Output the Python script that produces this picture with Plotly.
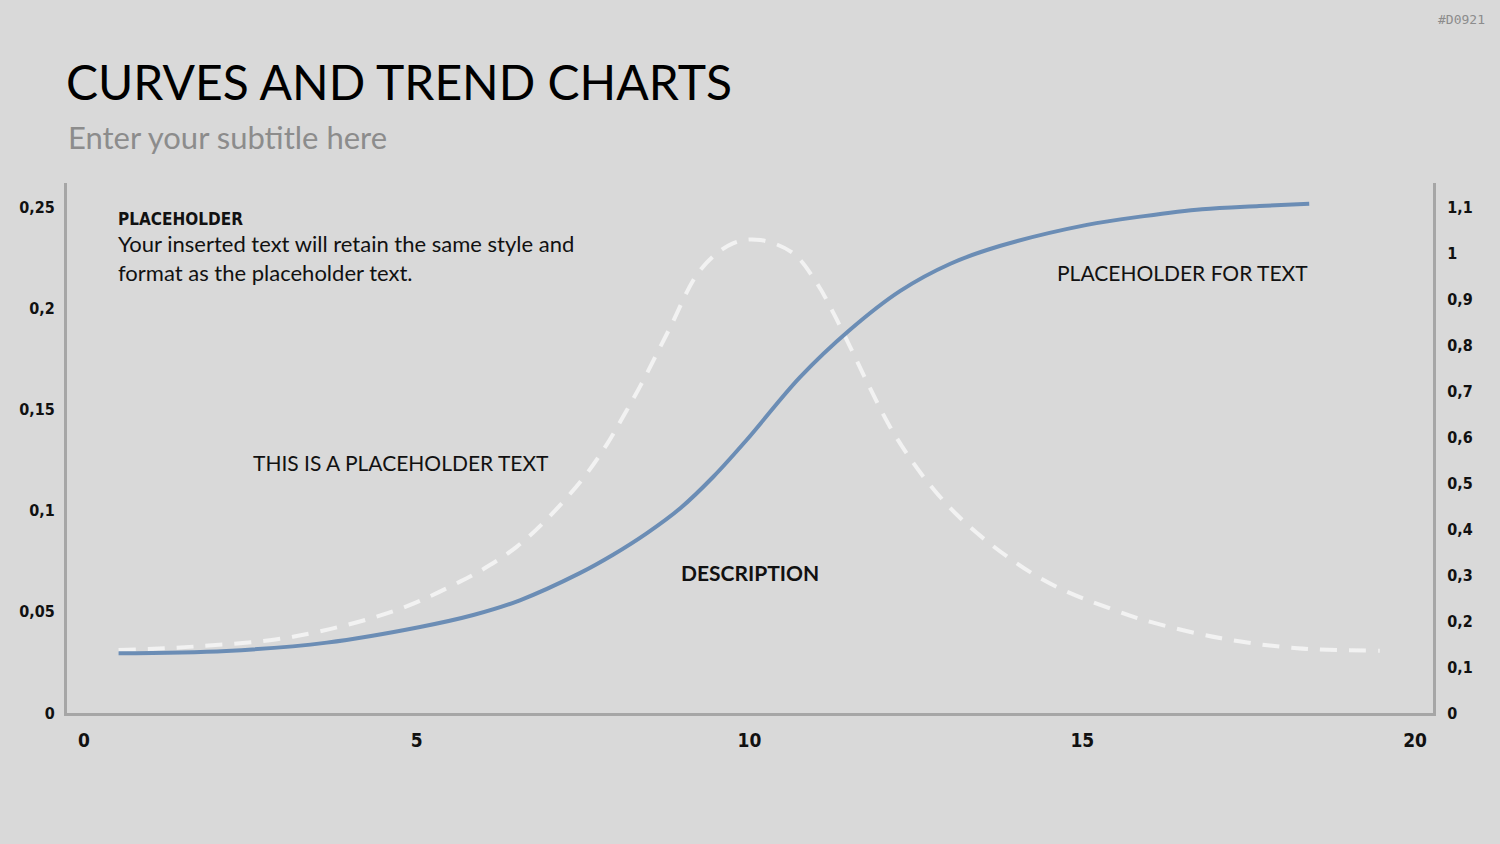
import plotly.graph_objects as go

# ---- data ----
x_growth = [0.52, 2.14, 3.65, 5.05, 5.85, 6.55, 7.45, 7.95, 8.46, 8.96, 9.46, 9.96, 10.76,
            11.51, 12.26, 13.01, 13.76, 15.07, 15.93, 16.80, 17.66, 18.41]
y_growth = [0.130, 0.135, 0.153, 0.187, 0.213, 0.245, 0.304, 0.344, 0.391, 0.445, 0.514, 0.594, 0.730,
            0.833, 0.917, 0.976, 1.015, 1.061, 1.080, 1.095, 1.102, 1.107]

x_bell = [0.52, 1.64, 3.14, 4.70, 5.65, 6.10, 6.50, 6.90, 7.50, 7.85, 8.10, 8.38, 8.80, 9.26, 9.75,
          10.16, 10.65, 11.01, 11.26, 11.51, 11.76, 12.11, 12.46, 12.79, 13.14, 13.51, 13.94, 14.37,
          14.82, 15.29, 15.93, 17.09, 18.23, 19.47]
y_bell = [0.0311, 0.0328, 0.0377, 0.0509, 0.0649, 0.0731, 0.0821, 0.0939, 0.1160, 0.1324, 0.1464,
          0.1629, 0.1900, 0.2189, 0.2321, 0.2337, 0.2273, 0.2125, 0.1977, 0.1811, 0.1640, 0.1415,
          0.1236, 0.1096, 0.0972, 0.0864, 0.0757, 0.0666, 0.0592, 0.0532, 0.0459, 0.0369, 0.0320, 0.0308]

x_ticks = [0, 5, 10, 15, 20]
x_ticktext = ["0", "5", "10", "15", "20"]
left_ticks = [0, 0.05, 0.1, 0.15, 0.2, 0.25]
left_ticktext = ["0", "0,05", "0,1", "0,15", "0,2", "0,25"]
right_ticks = [0, 0.1, 0.2, 0.3, 0.4, 0.5, 0.6, 0.7, 0.8, 0.9, 1.0, 1.1]
right_ticktext = ["0", "0,1", "0,2", "0,3", "0,4", "0,5", "0,6", "0,7", "0,8", "0,9", "1", "1,1"]

title_text = "CURVES AND TREND CHARTS"
subtitle_text = "Enter your subtitle here"

BG = "#D9D9D9"
AXIS = "#A6A6A6"
BLUE = "#6B8DB5"
DASH = "#F2F2F2"
NARROW = "Liberation Sans Narrow, DejaVu Sans Condensed, sans-serif"
TICKFONT = dict(family=NARROW, size=16, color="#111111", weight="bold")
BODY = "Lato"

fig = go.Figure()
fig.add_trace(go.Scatter(x=x_growth, y=y_growth, mode="lines", yaxis="y2",
                         line=dict(color=BLUE, width=4, shape="spline", smoothing=1.0),
                         hoverinfo="skip", showlegend=False))
fig.add_trace(go.Scatter(x=x_bell, y=y_bell, mode="lines", yaxis="y",
                         line=dict(color=DASH, width=4, dash="17px,12px", shape="spline", smoothing=1.0),
                         hoverinfo="skip", showlegend=False))

ann = []
def add(text, x, y, xanchor="left", yanchor="middle", font=None, align="left"):
    ann.append(dict(text=text, x=x, y=y, xref="paper", yref="paper", xanchor=xanchor, yanchor=yanchor,
                    showarrow=False, align=align, font=font))

def px2x(px):
    return (px - 67) / 1366

def py2y(py):
    return (713 - py) / 530

def body(size, color="#111111", weight="normal"):
    return dict(family=BODY, size=size, color=color, weight=weight)

add(title_text, px2x(64), py2y(82), font=body(48, "#000000"))
add(subtitle_text, px2x(66), py2y(137), font=body(31, "#8C8C8C"))
add("#D0921", px2x(1487), py2y(19), xanchor="right",
    font=dict(family="DejaVu Sans Mono", size=13, color="#8C8C8C"))
add("PLACEHOLDER", px2x(116), py2y(219),
    font=dict(family=NARROW, size=17, color="#111111", weight="bold"))
add("Your inserted text will retain the same style and<br>format as the placeholder text.",
    px2x(116), py2y(257.5), font=body(22))
add("THIS IS A PLACEHOLDER TEXT", px2x(400.5), py2y(462), xanchor="center", font=body(21))
add("PLACEHOLDER FOR TEXT", px2x(1310), py2y(272), xanchor="right", font=body(21))
add("DESCRIPTION", px2x(750), py2y(572), xanchor="center", font=body(21, weight="bold"))

fig.update_layout(
    width=1500, height=844,
    paper_bgcolor=BG, plot_bgcolor=BG,
    margin=dict(l=67, r=67, t=183, b=131),
    separators=",.",
    showlegend=False,
    annotations=ann,
    xaxis=dict(range=[-0.255, 20.27], tickvals=x_ticks, ticktext=x_ticktext, showgrid=False,
               zeroline=False, showline=True, linecolor=AXIS, linewidth=3, ticks="",
               tickfont=dict(family=NARROW, size=19, color="#111111", weight="bold"),
               ticklabelstandoff=8),
    yaxis=dict(range=[0, 0.2619], tickvals=left_ticks, ticktext=left_ticktext, showgrid=False,
               zeroline=False, showline=True, linecolor=AXIS, linewidth=3, ticks="",
               tickfont=TICKFONT, ticklabelstandoff=6),
    yaxis2=dict(range=[0, 1.152], tickvals=right_ticks, ticktext=right_ticktext, showgrid=False,
                zeroline=False, showline=True, linecolor=AXIS, linewidth=3, ticks="",
                overlaying="y", side="right", tickfont=TICKFONT, ticklabelstandoff=8),
)

fig.write_html("out.html")
